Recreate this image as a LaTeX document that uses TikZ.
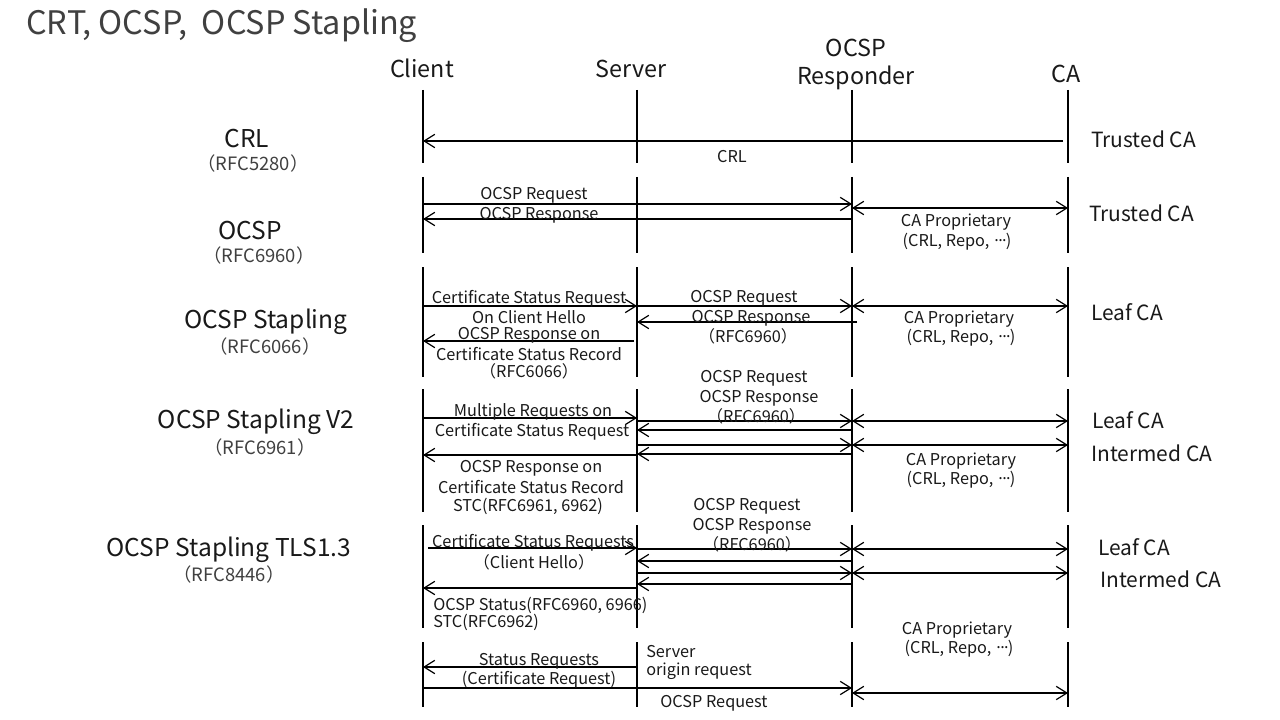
\documentclass[tikz,border=0pt]{standalone}
\usepackage{fontspec}
\setmainfont{Noto Sans CJK JP}
\usetikzlibrary{arrows.meta}
\newcommand{\mdots}{\kern-0.05em·\kern-0.32em·\kern-0.32em·\kern-0.2em}
\begin{document}
\begin{tikzpicture}[x=0.75pt,y=-0.75pt,
  life/.style={line width=1.8pt},
  tip/.tip={Straight Barb[length=8pt,width=10pt]},
  msg/.style={line width=0.9pt,-tip},
  bimsg/.style={line width=0.9pt,tip-tip},
  every node/.style={inner sep=0pt,text=black!90,yshift=-1.5pt},
  ttl/.style={font=\fontsize{24.3}{28}\selectfont,text=black!75,yshift=-1.5pt},
  hdr/.style={font=\fontsize{17.5}{20}\selectfont,yshift=1pt},
  big/.style={font=\fontsize{18.4}{21}\selectfont},
  rfc/.style={font=\fontsize{13.8}{16}\selectfont,text=black!75},
  lbl/.style={font=\fontsize{12.2}{14}\selectfont},
  side/.style={font=\fontsize{15.7}{18}\selectfont,anchor=west}]
\useasboundingbox (0,0) rectangle (1280,720);
\fill[white] (0,0) rectangle (1280,720);

% title and headers
\node[ttl,anchor=west] (title) at (26,22) {CRT, OCSP,\ \ OCSP Stapling};
\node[hdr] (hclient) at (422,68) {Client};
\node[hdr] (hserver) at (631,68) {Server};
\node[hdr] (hresp1) at (856,47) {OCSP};
\node[hdr] (hresp2) at (856,77) {Responder};
\node[hdr] (hca) at (1066,73) {CA};

% lifelines
\coordinate (C) at (423,0);
\coordinate (S) at (637,0);
\coordinate (R) at (852,0);
\coordinate (A) at (1068,0);
\foreach \a/\b in {90/163,177/253,267/377,389/512,525/628,642/707}
  \foreach \n in {C,S,R,A}
    \draw[life] (\n |- 0,\a) -- (\n |- 0,\b);

% left section labels
\node[big] (lcrl) at (247,137) {CRL};
\node[rfc] (lcrlr) at (253,162) {（RFC5280）};
\node[big] (locsp) at (250,229) {OCSP};
\node[rfc] (locspr) at (259,254) {（RFC6960）};
\node[big] (lst) at (266,320) {OCSP Stapling};
\node[rfc] (lstr) at (265,345) {（RFC6066）};
\node[big] (lv2) at (256,420) {OCSP Stapling V2};
\node[rfc] (lv2r) at (260,446) {（RFC6961）};
\node[big] (ltls) at (229,548) {OCSP Stapling TLS1.3};
\node[rfc] (ltlsr) at (229,573) {（RFC8446）};

% right labels
\node[side] (r1) at (1091,137) {Trusted CA};
\node[side] (r2) at (1089,211) {Trusted CA};
\node[side] (r3) at (1091,310) {Leaf CA};
\node[side] (r4) at (1092,418) {Leaf CA};
\node[side] (r5) at (1091,451) {Intermed CA};
\node[side] (r6) at (1098,545) {Leaf CA};
\node[side] (r7) at (1100,577) {Intermed CA};

% CRL
\draw[msg,shorten <=3.75pt] (A|-0,141) -- (C|-0,141);
\node[lbl] (tcrl) at (732,155) {CRL};

% OCSP
\draw[msg] (C|-0,204) -- (R|-0,204);
\draw[msg] (R|-0,219) -- (C|-0,219);
\draw[bimsg] (R|-0,208) -- (A|-0,208);
\node[lbl] (o1) at (534,193) {OCSP Request};
\node[lbl] (o2) at (539,213) {OCSP Response};
\node[lbl] (o3) at (956,220) {CA Proprietary};
\node[lbl] (o4) at (957,240) {(CRL, Repo, \mdots)};

% OCSP Stapling
\draw[msg] (C|-0,306) -- (S|-0,306);
\draw[msg,shorten <=2.25pt] (S|-0,341) -- (C|-0,341);
\draw[msg] (S|-0,306) -- (R|-0,306);
\draw[msg,shorten <=-3.75pt] (R|-0,322) -- (S|-0,322);
\draw[bimsg] (R|-0,306) -- (A|-0,306);
\node[lbl] (s1) at (529,297) {Certificate Status Request};
\node[lbl] (s2) at (529,315) {On Client Hello};
\node[lbl] (s3) at (529,333) {OCSP Response on};
\node[lbl] (s4) at (529,352) {Certificate Status Record};
\node[lbl] (s5) at (529,369) {（RFC6066）};
\node[lbl] (s6) at (744,296) {OCSP Request};
\node[lbl] (s7) at (751,316) {OCSP Response};
\node[lbl] (s8) at (748,334) {（RFC6960）};
\node[lbl] (s9) at (959,317) {CA Proprietary};
\node[lbl] (s10) at (961,336) {(CRL, Repo, \mdots)};

% OCSP Stapling V2
\draw[msg] (C|-0,418) -- (S|-0,418);
\draw[msg] (S|-0,455) -- (C|-0,455);
\draw[msg] (S|-0,421) -- (R|-0,421);
\draw[msg] (R|-0,430) -- (S|-0,430);
\draw[msg] (S|-0,445) -- (R|-0,445);
\draw[msg] (R|-0,454) -- (S|-0,454);
\draw[bimsg] (R|-0,421) -- (A|-0,421);
\draw[bimsg] (R|-0,445) -- (A|-0,445);
\node[lbl] (v1) at (533,410) {Multiple Requests on};
\node[lbl] (v2) at (532,430) {Certificate Status Request};
\node[lbl] (v3) at (531,466) {OCSP Response on};
\node[lbl] (v4) at (531,485) {Certificate Status Record};
\node[lbl] (v5) at (528,504) {STC(RFC6961, 6962)};
\node[lbl] (v6) at (754,376) {OCSP Request};
\node[lbl] (v7) at (759,396) {OCSP Response};
\node[lbl] (v8) at (756,414) {（RFC6960）};
\node[lbl] (v9) at (961,459) {CA Proprietary};
\node[lbl] (v10) at (961,478) {(CRL, Repo, \mdots)};

% OCSP Stapling TLS1.3
\draw[msg,shorten <=3.75pt] (C|-0,548) -- (S|-0,548);
\draw[msg] (S|-0,588) -- (C|-0,588);
\draw[msg] (S|-0,549) -- (R|-0,549);
\draw[msg] (R|-0,561) -- (S|-0,561);
\draw[msg] (S|-0,573) -- (R|-0,573);
\draw[msg] (R|-0,584) -- (S|-0,584);
\draw[bimsg] (R|-0,549) -- (A|-0,549);
\draw[bimsg] (R|-0,573) -- (A|-0,573);
\node[lbl] (t1) at (533,541) {Certificate Status Requests};
\node[lbl] (t2) at (534,560) {（Client Hello）};
\node[lbl,anchor=west] (t3) at (433,603) {OCSP Status(RFC6960, 6966)};
\node[lbl,anchor=west] (t4) at (433,620) {STC(RFC6962)};
\node[lbl] (t5) at (747,504) {OCSP Request};
\node[lbl] (t6) at (752,524) {OCSP Response};
\node[lbl] (t7) at (752,542) {（RFC6960）};

% server origin request
\draw[msg] (S|-0,667) -- (C|-0,667);
\draw[msg] (C|-0,688) -- (R|-0,688);
\draw[bimsg] (R|-0,693) -- (A|-0,693);
\node[lbl] (u1) at (957,628) {CA Proprietary};
\node[lbl] (u2) at (959,647) {(CRL, Repo, \mdots)};
\node[lbl] (u3) at (539,659) {Status Requests};
\node[lbl] (u4) at (539,678) {(Certificate Request)};
\node[lbl,anchor=west] (u5) at (646,650) {Server};
\node[lbl,anchor=west] (u6) at (646,669) {origin request};
\node[lbl] (u7) at (714,701) {OCSP Request};
\end{tikzpicture}
\end{document}
